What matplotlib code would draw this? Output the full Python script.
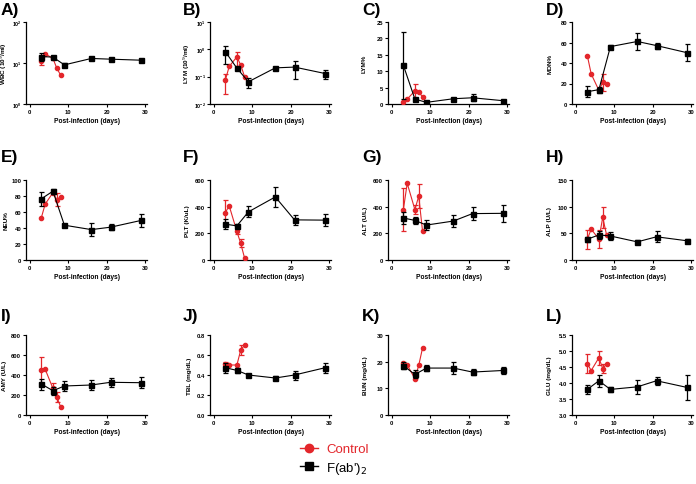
import numpy as np
import matplotlib
matplotlib.use('Agg')
import matplotlib.pyplot as plt
from matplotlib.lines import Line2D
from matplotlib.ticker import LogLocator, NullLocator, MultipleLocator, FormatStrFormatter

plt.rcParams['font.family'] = ['Liberation Sans', 'DejaVu Sans']

RED = '#e3262b'

# sampling days
days_ctrl = [3, 4, 6, 7, 8]
days_fab = [3, 6, 9, 16, 21, 29]

# mean and SEM of each parameter
wbc_fab = [14.4, 13.9, 9.0, 12.9, 12.4, 11.7]
wbc_fab_err = [3.0, 1.2, 1.0, 0.6, 0.8, 0.6]
wbc_ctrl = [11.3, 16.5, 13.1, 7.5, 5.1]
wbc_ctrl_err = [2.5, 0, 0, 0, 0]

lym_fab = [0.82, 0.205, 0.065, 0.21, 0.224, 0.13]
lym_fab_err = [0.53, 0, 0.028, 0, 0.145, 0.05]
lym_ctrl = [0.075, 0.237, 0.53, 0.266, 0.10]
lym_ctrl_err = [0.052, 0, 0.29, 0, 0]

lymp_fab = [11.8, 1.5, 0.5, 1.6, 1.9, 1.0]
lymp_fab_err = [10.3, 0, 0, 0, 1.0, 0]
lymp_ctrl = [0.5, 1.5, 4.0, 3.6, 2.2]
lymp_ctrl_err = [0, 0, 2.2, 0, 0]

mon_fab = [12, 14, 56, 61, 57, 50]
mon_fab_err = [5.5, 3, 2, 8, 3, 8.5]
mon_ctrl = [47, 29.3, 13.3, 21, 20]
mon_ctrl_err = [0, 0, 0, 8, 0]

neu_fab = [76.5, 86, 43.5, 38, 41, 49.5]
neu_fab_err = [8.5, 3, 2, 8, 4, 8.5]
neu_ctrl = [53, 70, 84, 75.6, 79]
neu_ctrl_err = [0, 0, 0, 8, 0]

plt_fab = [269, 256, 361, 473, 301, 299]
plt_fab_err = [37, 15, 41, 76, 40, 45]
plt_ctrl = [356, 406, 214, 124, 15]
plt_ctrl_err = [95, 0, 20, 30, 0]

alt_fab = [315, 297, 262, 292, 348, 350]
alt_fab_err = [48, 27, 35, 45, 50, 65]
alt_ctrl = [378, 575, 378, 479, 214]
alt_ctrl_err = [160, 0, 35, 88, 0]

alp_fab = [39, 47, 45, 34, 43.5, 36]
alp_fab_err = [5, 8, 8, 4, 10, 4]
alp_ctrl = [39, 58, 39, 80, 47]
alp_ctrl_err = [18, 0, 17, 20, 0]

amy_fab = [310, 243, 290, 300, 327, 323]
amy_fab_err = [55, 40, 48, 50, 48, 57]
amy_ctrl = [450, 457, 267, 183, 83]
amy_ctrl_err = [127, 0, 50, 50, 0]

tbl_fab = [0.473, 0.446, 0.40, 0.37, 0.40, 0.473]
tbl_fab_err = [0.05, 0.025, 0, 0.02, 0.045, 0.05]
tbl_ctrl = [0.508, 0.50, 0.50, 0.65, 0.70]
tbl_ctrl_err = [0.02, 0, 0, 0.05, 0]

bun_fab = [18.5, 15.2, 17.6, 17.6, 16.1, 16.7]
bun_fab_err = [1.2, 1.5, 1.2, 2.4, 1.0, 1.3]
bun_ctrl = [19.6, 18.8, 13.6, 18.6, 25.2]
bun_ctrl_err = [0, 0, 0, 0, 0]

glu_fab = [3.80, 4.07, 3.80, 3.88, 4.07, 3.86]
glu_fab_err = [0.14, 0.18, 0.07, 0.22, 0.13, 0.4]
glu_ctrl = [4.6, 4.39, 4.79, 4.45, 4.6]
glu_ctrl_err = [0.3, 0, 0.22, 0.15, 0]

panels = [
    ('A)', 'WBC (10$^9$/ml)', wbc_ctrl, wbc_ctrl_err, wbc_fab, wbc_fab_err, 'log', (1, 100), None),
    ('B)', 'LYM (10$^9$/ml)', lym_ctrl, lym_ctrl_err, lym_fab, lym_fab_err, 'log', (0.01, 10), None),
    ('C)', 'LYM%', lymp_ctrl, lymp_ctrl_err, lymp_fab, lymp_fab_err, 'linear', (0, 25), 5),
    ('D)', 'MON%', mon_ctrl, mon_ctrl_err, mon_fab, mon_fab_err, 'linear', (0, 80), 20),
    ('E)', 'NEU%', neu_ctrl, neu_ctrl_err, neu_fab, neu_fab_err, 'linear', (0, 100), 20),
    ('F)', 'PLT (K/uL)', plt_ctrl, plt_ctrl_err, plt_fab, plt_fab_err, 'linear', (0, 600), 200),
    ('G)', 'ALT (U/L)', alt_ctrl, alt_ctrl_err, alt_fab, alt_fab_err, 'linear', (0, 600), 200),
    ('H)', 'ALP (U/L)', alp_ctrl, alp_ctrl_err, alp_fab, alp_fab_err, 'linear', (0, 150), 50),
    ('I)', 'AMY (U/L)', amy_ctrl, amy_ctrl_err, amy_fab, amy_fab_err, 'linear', (0, 800), 200),
    ('J)', 'TBL (mg/dL)', tbl_ctrl, tbl_ctrl_err, tbl_fab, tbl_fab_err, 'linear', (0, 0.8), 0.2),
    ('K)', 'BUN (mg/dL)', bun_ctrl, bun_ctrl_err, bun_fab, bun_fab_err, 'linear', (0, 30), 10),
    ('L)', 'GLU (mg/dL)', glu_ctrl, glu_ctrl_err, glu_fab, glu_fab_err, 'linear', (3.0, 5.5), 0.5),
]

W, H = 696, 485
fig = plt.figure(figsize=(W / 100, H / 100), dpi=100)

col_left = [26, 210, 388, 572]
row_top = [23, 181, 336]
row_bot = [105, 261, 416]
title_x = [1, 183, 362, 546]
title_y = [3, 150, 309]
ylab_off = [[22, 23, 24, 22], [20, 23, 23, 23], [22, 20, 22, 22]]
ax_w = 121


def draw_series(ax, x, y, err, color, marker, ms, zo):
    x = np.array(x, float)
    y = np.array(y, float)
    err = np.array(err, float)
    ax.plot(x, y, color=color, lw=0.8, marker=marker, ms=ms, zorder=zo)
    m = err > 0
    if m.any():
        ax.errorbar(x[m], y[m], yerr=err[m], fmt='none', ecolor=color,
                    elinewidth=0.9, capsize=1.8, capthick=0.9, zorder=zo)


for i, (letter, ylab, yc, ec, yf, ef, scale, ylim, step) in enumerate(panels):
    r, c = divmod(i, 4)
    left = col_left[c]
    top = row_top[r]
    bot = row_bot[r]
    ax = fig.add_axes([left / W, 1 - bot / H, ax_w / W, (bot - top) / H])

    draw_series(ax, days_ctrl, yc, ec, RED, 'o', 3.0, 3)
    draw_series(ax, days_fab, yf, ef, 'black', 's', 3.6, 4)

    ax.set_xlim(-1, 30.5)
    ax.set_xticks([0, 10, 20, 30])
    ax.tick_params(length=2, width=0.8, pad=1.5, labelsize=4.2)
    if scale == 'log':
        ax.set_yscale('log')
        ax.set_ylim(*ylim)
        ax.yaxis.set_major_locator(LogLocator(base=10, numticks=10))
        ax.yaxis.set_minor_locator(NullLocator())
        ax.tick_params(axis='y', labelsize=3.8, pad=1)
    else:
        ax.set_ylim(*ylim)
        ax.yaxis.set_major_locator(MultipleLocator(step))
        if step < 1:
            ax.yaxis.set_major_formatter(FormatStrFormatter('%.1f'))

    for s in ['top', 'right']:
        ax.spines[s].set_visible(False)
    for s in ['left', 'bottom']:
        ax.spines[s].set_linewidth(0.9)
    for lab in ax.get_xticklabels() + ax.get_yticklabels():
        lab.set_fontweight('bold')

    ax.set_xlabel('Post-infection (days)', fontsize=4.8, fontweight='bold', labelpad=2)
    ax.set_ylabel(ylab, fontsize=4.6, fontweight='bold', va='center')
    ax.yaxis.set_label_coords(-ylab_off[r][c] / ax_w, 0.5)

    fig.text(title_x[c] / W, 1 - title_y[r] / H, letter, fontsize=12.5,
             fontweight='bold', ha='left', va='top')

handles = [
    Line2D([], [], color=RED, marker='o', ms=6, lw=1.0),
    Line2D([], [], color='black', marker='s', ms=6, lw=1.0),
]
fig.legend(handles, ['Control', "F(ab')$_2$"], loc='upper left',
           bbox_to_anchor=(300 / W, 1 - 444 / H), frameon=False,
           fontsize=9.5, handlelength=1.4, handletextpad=0.6,
           labelspacing=0.35, borderpad=0, borderaxespad=0,
           labelcolor='markerfacecolor')

fig.savefig('out.png', dpi=100)
